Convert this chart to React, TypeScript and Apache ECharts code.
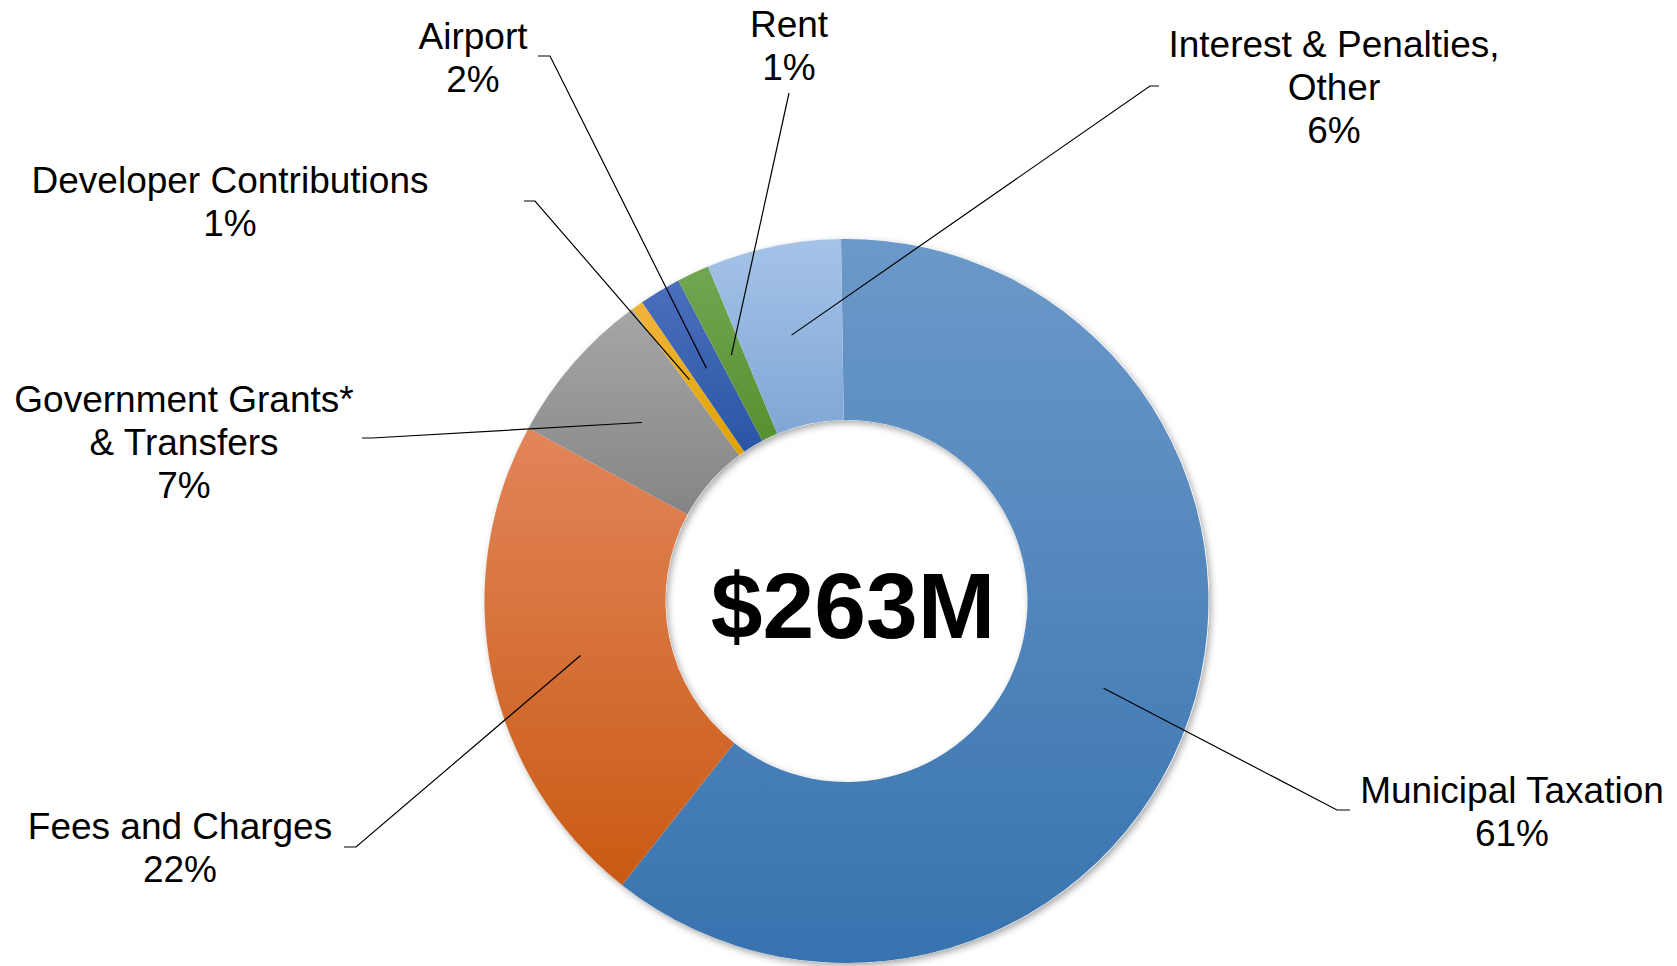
import React, { useEffect, useRef } from 'react';
import * as echarts from 'echarts';

// ---- Data ----
const categories = [
  'Municipal Taxation',
  'Fees and Charges',
  'Government Grants*\n& Transfers',
  'Developer Contributions',
  'Airport',
  'Rent',
  'Interest & Penalties,\nOther',
];
const values = [160.2, 58.6, 18.4, 1.4, 4.9, 3.8, 15.8];
const totalLabel = '$263M';

// ---- Styles ----
const gradientTop = ['#6b99c9', '#e2855a', '#a6a6a6', '#f0b43c', '#4b6fbc', '#72a653', '#a5c3e7'];
const gradientBottom = ['#3873af', '#c95a13', '#858585', '#e0a300', '#2a56a6', '#57902f', '#80a7d7'];

// ---- Layout (px) ----
const CX = 846.5;
const CY = 601;
const R_OUT = 362;
const R_IN = 181;
const START_ANGLE = 90.87;
// [labelCenterX, labelCenterY, elbowX, elbowY, endX, endY]
const labelPos = [
  [1512, 812, 1337, 810, 1350, 810],
  [180, 848, 356, 847, 344, 847],
  [184, 442, 372, 438, 362, 438],
  [230, 202, 535, 201, 524, 201],
  [473, 58, 550, 56, 538, 56],
  [789, 46, 789, 93, 789, 93],
  [1334, 87, 1150, 86, 1159, 86],
];

const FONT = '"Liberation Sans", Arial, Helvetica, sans-serif';

export default function App() {
  const ref = useRef<HTMLDivElement>(null);

  useEffect(() => {
    if (!ref.current) return;
    const chart = echarts.init(ref.current, undefined, { renderer: 'svg' });
    const total = values.reduce((a, b) => a + b, 0);
    const midR = (R_OUT + R_IN) / 2;

    const colored = categories.map((name, i) => ({
      name,
      value: values[i],
      itemStyle: {
        color: new echarts.graphic.LinearGradient(0, 0, 0, 1, [
          { offset: 0, color: gradientTop[i] },
          { offset: 1, color: gradientBottom[i] },
        ]),
      },
    }));
    const labelled = categories.map((name, i) => ({ name, value: values[i] }));

    const startPoint = (i: number, pts: any) => {
      if (pts && pts.length) {
        const dx = pts[0][0] - CX;
        const dy = pts[0][1] - CY;
        const d = Math.hypot(dx, dy) || 1;
        return [CX + (dx / d) * midR, CY + (dy / d) * midR];
      }
      let cum = 0;
      for (let k = 0; k < i; k++) cum += values[k];
      const bearing = ((90 - START_ANGLE) + (360 * (cum + values[i] / 2)) / total) * Math.PI / 180;
      return [CX + midR * Math.sin(bearing), CY - midR * Math.cos(bearing)];
    };

    const common = {
      type: 'pie',
      silent: true,
      center: [CX, CY],
      radius: [R_IN, R_OUT],
      startAngle: START_ANGLE,
      clockwise: true,
      avoidLabelOverlap: false,
    };

    chart.setOption({
      animation: false,
      backgroundColor: '#ffffff',
      series: [
        {
          ...common,
          z: 1,
          label: { show: false },
          labelLine: { show: false },
          itemStyle: {
            color: '#ffffff',
            shadowBlur: 7,
            shadowOffsetX: 2,
            shadowOffsetY: 3,
            shadowColor: 'rgba(0,0,0,0.35)',
          },
          data: [{ name: 'total', value: total }],
        },
        {
          ...common,
          z: 2,
          label: { show: false },
          labelLine: { show: false },
          data: colored,
        },
        {
          ...common,
          z: 3,
          itemStyle: { color: 'rgba(0,0,0,0)' },
          label: {
            show: true,
            position: 'outside',
            color: '#000000',
            fontFamily: FONT,
            fontSize: 37,
            lineHeight: 43,
            formatter: (p: any) => `${p.name}\n${Math.round(p.percent)}%`,
          },
          labelLine: {
            show: true,
            smooth: false,
            lineStyle: { color: '#000000', width: 1.2 },
          },
          labelLayout: (p: any) => {
            const i = p.dataIndex;
            const lp = labelPos[i];
            const s = startPoint(i, p.labelLinePoints);
            return {
              x: lp[0],
              y: lp[1],
              align: 'center',
              verticalAlign: 'middle',
              labelLinePoints: [s, [lp[2], lp[3]], [lp[4], lp[5]]],
            };
          },
          data: labelled,
        },
      ],
      graphic: [
        {
          type: 'text',
          x: 853,
          y: 606,
          z: 10,
          style: {
            text: totalLabel,
            fontFamily: FONT,
            fontSize: 93,
            fontWeight: 'bold',
            fill: '#000000',
            align: 'center',
            verticalAlign: 'middle',
          },
        },
      ],
    });

    return () => chart.dispose();
  }, []);

  return (
    <div
      ref={ref}
      style={{ position: 'fixed', left: 0, top: 0, width: '1677px', height: '966px', background: '#fff' }}
    />
  );
}
